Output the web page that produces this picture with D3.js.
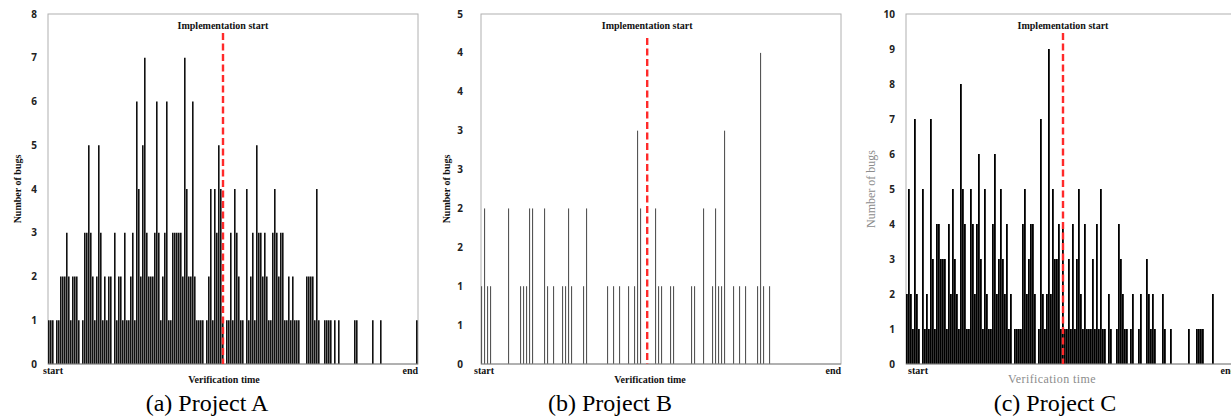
<!DOCTYPE html>
<html lang="en">
<head>
<meta charset="UTF-8" />
<title>Number of bugs over verification time</title>
<style>
  body { margin: 0; background: #fff; }
  svg { display: block; background: #fff; }
  .tick-label { font-family: "Open Sans", sans-serif; font-weight: 700; font-size: 10px; fill: #222; }
  .serif { font-family: "Liberation Serif", "Times New Roman", serif; }
</style>
</head>
<body>
<svg id="chart" width="1231" height="418" viewBox="0 0 1231 418" xmlns="http://www.w3.org/2000/svg"></svg>

<script src="https://d3js.org/d3.v7.min.js"></script>
<script>
  // bugs found per time slot
  const bugsA = [
    1,1,1,0,1,1,2,2,2,3,
    2,1,2,2,2,1,0,1,3,3,
    5,3,2,1,2,5,3,1,2,1,
    2,2,0,3,1,2,2,1,3,1,
    1,2,3,1,6,4,2,5,7,3,
    2,2,2,3,6,3,1,2,3,6,
    1,1,3,3,3,3,3,2,7,4,
    2,2,6,2,1,1,1,1,0,1,
    2,4,1,4,3,5,4,1,0,1,
    1,3,1,4,3,2,1,1,0,4,
    1,2,3,1,5,3,3,2,3,2,
    1,1,3,4,3,2,3,3,1,1,
    2,1,2,1,1,1,0,0,0,2,
    2,2,2,1,4,1,0,0,1,1,
    1,1,0,1,0,1,0,0,0,0,
    0,0,0,1,1,0,0,0,0,0,
    0,0,1,0,0,0,1,0,0,0,
    0,0,0,0,0,0,0,0,0,0,
    0,0,0,0,1
  ];
  const bugsB = [
    1,2,1,1,0,0,0,0,0,2,
    0,0,0,1,1,1,2,2,0,0,
    0,2,1,0,1,0,0,1,1,2,
    1,0,0,0,1,2,0,0,0,0,
    0,0,1,0,1,0,1,0,0,1,
    0,1,3,2,0,0,0,0,2,1,
    1,0,0,1,1,0,0,0,0,0,
    1,1,0,0,2,0,0,1,2,1,
    1,3,0,0,1,0,1,0,1,0,
    0,0,1,4,1,0,1,0,0,0,
    0,0,0,0,0,0,0,0,0,0,
    0,0,0,0,0,0,0,0,0,0
  ];
  const bugsC = [
    2,5,2,1,7,2,1,0,5,1,
    2,1,7,3,1,4,4,3,3,3,
    1,4,2,5,3,2,1,8,5,4,
    1,1,5,4,2,4,6,3,1,5,
    2,1,1,4,6,2,3,5,3,2,
    4,1,2,0,1,1,1,1,4,5,
    2,3,4,4,2,0,1,7,2,1,
    2,9,2,5,3,3,4,1,4,1,
    1,3,1,4,1,3,5,2,1,4,
    1,1,1,3,1,4,1,5,1,1,
    0,2,1,0,0,1,4,3,2,1,
    1,0,1,2,0,0,1,2,0,0,
    3,2,1,2,1,0,0,0,2,1,
    0,0,1,0,0,0,0,0,0,0,
    0,1,0,0,0,1,1,1,1,0,
    0,0,0,2,0,0,0,0,0,0,
    0,0,0,0,0
  ];

  // time slot where implementation starts
  const implStartA = 87.5;
  const implStartB = 55.4;
  const implStartC = 78.5;

  const ticksA = [0, 1, 2, 3, 4, 5, 6, 7, 8];
  const tickLabelsA = ["0", "1", "2", "3", "4", "5", "6", "7", "8"];
  const ticksB = [0, 0.5, 1, 1.5, 2, 2.5, 3, 3.5, 4, 4.5];
  const tickLabelsB = ["0", "1", "1", "2", "2", "3", "3", "4", "4", "5"];
  const ticksC = [0, 1, 2, 3, 4, 5, 6, 7, 8, 9, 10];
  const tickLabelsC = ["0", "1", "2", "3", "4", "5", "6", "7", "8", "9", "10"];

  const captions = ["(a) Project A", "(b) Project B", "(c) Project C"];

  const plotTop = 14, plotBottom = 364;

  const panels = [
    { bugs: bugsA, impl: implStartA, ticks: ticksA, tickLabels: tickLabelsA, caption: captions[0],
      left: 48, right: 418, barRatio: 0.8, barFill: "#111", tickGap: 11, yTitleX: 17,
      xTitleX: 224, captionX: 207, startDx: -5, lineTop: 33, muted: false },
    { bugs: bugsB, impl: implStartB, ticks: ticksB, tickLabels: tickLabelsB, caption: captions[1],
      left: 481, right: 841, barWidth: 1.1, barFill: "#555", tickGap: 18, yTitleX: 446,
      xTitleX: 650, captionX: 610, startDx: -7, lineTop: 38, muted: false },
    { bugs: bugsC, impl: implStartC, ticks: ticksC, tickLabels: tickLabelsC, caption: captions[2],
      left: 906, right: 1236, barRatio: 0.9, barFill: "#000", tickGap: 11, yTitleX: 871,
      xTitleX: 1052, captionX: 1055, startDx: 2, lineTop: 33, muted: true }
  ];

  const svg = d3.select("#chart");

  panels.forEach(p => {
    const g = svg.append("g");
    const yMax = p.ticks[p.ticks.length - 1];

    const x = d3.scaleLinear().domain([0, p.bugs.length]).range([p.left, p.right]);
    const y = d3.scaleLinear().domain([0, yMax]).range([plotBottom, plotTop]);
    const bw = p.barWidth || (x(1) - x(0)) * p.barRatio;

    // frame
    g.append("rect")
      .attr("x", p.left).attr("y", plotTop)
      .attr("width", p.right - p.left).attr("height", plotBottom - plotTop)
      .attr("fill", "none").attr("stroke", "#b0b0b0").attr("stroke-width", 1);

    // bars
    g.append("g")
      .selectAll("rect")
      .data(p.bugs.map((v, i) => ({ i, v })).filter(d => d.v > 0))
      .enter().append("rect")
      .attr("x", d => x(d.i))
      .attr("y", d => y(d.v))
      .attr("width", bw)
      .attr("height", d => y(0) - y(d.v))
      .attr("fill", p.barFill);

    // x axis line
    g.append("line")
      .attr("x1", p.left).attr("x2", p.right)
      .attr("y1", plotBottom).attr("y2", plotBottom)
      .attr("stroke", "#8a8a8a").attr("stroke-width", 1.2);

    // y tick labels
    g.append("g")
      .selectAll("text")
      .data(p.ticks)
      .enter().append("text")
      .attr("class", "tick-label")
      .attr("x", p.left - p.tickGap)
      .attr("y", t => y(t) + 3.5)
      .attr("text-anchor", "end")
      .text((t, i) => p.tickLabels[i]);

    // implementation start marker
    const ix = x(p.impl);
    g.append("line")
      .attr("x1", ix).attr("x2", ix)
      .attr("y1", p.lineTop).attr("y2", plotBottom)
      .attr("stroke", "#ff2a2a").attr("stroke-width", 2.4)
      .attr("stroke-dasharray", "7,3.5");

    g.append("text")
      .attr("class", "serif")
      .attr("x", ix).attr("y", 29)
      .attr("text-anchor", "middle")
      .attr("font-size", 10).attr("font-weight", 700).attr("fill", "#111")
      .text("Implementation start");

    // start / end
    g.append("text")
      .attr("class", "serif")
      .attr("x", p.left + p.startDx).attr("y", 374)
      .attr("font-size", 10).attr("font-weight", 700).attr("fill", "#111")
      .text("start");
    g.append("text")
      .attr("class", "serif")
      .attr("x", p.right).attr("y", 374)
      .attr("text-anchor", "end")
      .attr("font-size", 10).attr("font-weight", 700).attr("fill", "#111")
      .text("end");

    // axis titles
    g.append("text")
      .attr("class", "serif")
      .attr("x", p.xTitleX).attr("y", 383)
      .attr("text-anchor", "middle")
      .attr("font-size", p.muted ? 12 : 10)
      .attr("font-weight", p.muted ? 400 : 700)
      .attr("fill", p.muted ? "#8c8c8c" : "#111")
      .attr("letter-spacing", p.muted ? 0.4 : 0)
      .text("Verification time");

    g.append("text")
      .attr("class", "serif")
      .attr("transform", `translate(${p.yTitleX},${(plotTop + plotBottom) / 2}) rotate(-90)`)
      .attr("text-anchor", "middle")
      .attr("dy", "0.35em")
      .attr("font-size", p.muted ? 12 : 10)
      .attr("font-weight", p.muted ? 400 : 700)
      .attr("fill", p.muted ? "#8c8c8c" : "#111")
      .text("Number of bugs");

    // caption
    g.append("text")
      .attr("class", "serif")
      .attr("x", p.captionX).attr("y", 411)
      .attr("text-anchor", "middle")
      .attr("font-size", 24).attr("fill", "#000")
      .text(p.caption);
  });
</script>
</body>
</html>
